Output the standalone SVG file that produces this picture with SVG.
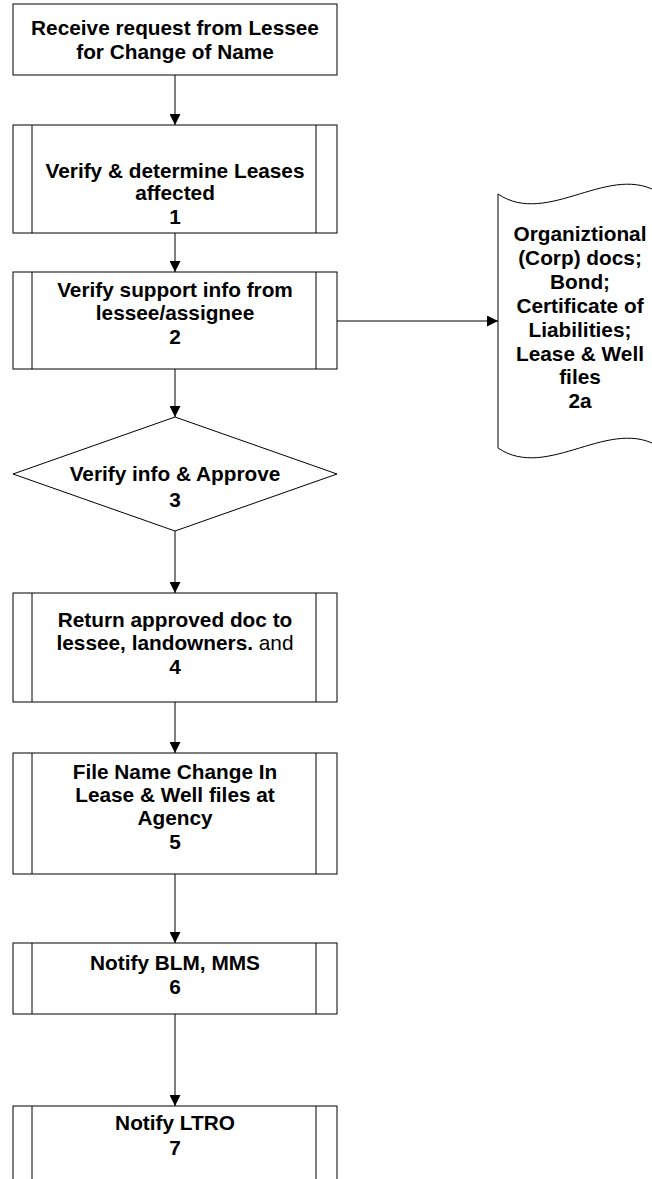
<svg xmlns="http://www.w3.org/2000/svg" width="652" height="1179" viewBox="0 0 652 1179">
<style>
.shape{fill:#fff;stroke:#000;stroke-width:1}
.div{stroke:#000;stroke-width:1;fill:none}
.conn{stroke:#000;stroke-width:1;fill:none;marker-end:url(#arr)}
text{font-family:"Liberation Sans",Arial,sans-serif;font-size:20.8px;font-weight:bold;fill:#000;text-anchor:middle}
</style>
<defs>
<marker id="arr" markerUnits="userSpaceOnUse" markerWidth="11" markerHeight="11" refX="11" refY="5.5" orient="auto">
<path d="M0,0 L11,5.5 L0,11 Z" fill="#000"/>
</marker>
</defs>
<rect width="652" height="1179" fill="#fff"/>
<g id="connectors">
<line class="conn" x1="175" y1="75" x2="175" y2="125"/>
<line class="conn" x1="175" y1="233" x2="175" y2="272"/>
<line class="conn" x1="175" y1="369" x2="175" y2="417"/>
<line class="conn" x1="175" y1="531" x2="175" y2="593"/>
<line class="conn" x1="175" y1="702" x2="175" y2="753"/>
<line class="conn" x1="175" y1="874" x2="175" y2="943"/>
<line class="conn" x1="175" y1="1014" x2="175" y2="1106"/>
<line class="conn" x1="337" y1="321" x2="498" y2="321"/>
</g>
<g id="start">
<rect class="shape" x="13" y="4" width="324" height="71"/>
<text x="175" y="35">Receive request from Lessee</text>
<text x="175" y="59">for Change of Name</text>
</g>
<g id="step1">
<rect class="shape" x="13" y="125" width="324" height="108"/>
<path class="div" d="M32,125 V233 M316,125 V233"/>
<text x="175" y="178">Verify &amp; determine Leases</text>
<text x="175" y="200">affected</text>
<text x="175" y="224">1</text>
</g>
<g id="step2">
<rect class="shape" x="13" y="272" width="324" height="97"/>
<path class="div" d="M32,272 V369 M316,272 V369"/>
<text x="175" y="297">Verify support info from</text>
<text x="175" y="320">lessee/assignee</text>
<text x="175" y="344">2</text>
</g>
<g id="doc2a">
<path class="shape" d="M498,194 C548,228 611,160 661,194 L661,448 C611,414 548,482 498,448 Z"/>
<text x="580" y="241">Organiztional</text>
<text x="580" y="265">(Corp) docs;</text>
<text x="580" y="289">Bond;</text>
<text x="580" y="313">Certificate of</text>
<text x="580" y="337">Liabilities;</text>
<text x="580" y="361">Lease &amp; Well</text>
<text x="580" y="384">files</text>
<text x="580" y="408">2a</text>
</g>
<g id="step3">
<path class="shape" d="M175,417 L337,474 L175,531 L13,474 Z"/>
<text x="175" y="481">Verify info &amp; Approve</text>
<text x="175" y="507">3</text>
</g>
<g id="step4">
<rect class="shape" x="13" y="593" width="324" height="109"/>
<path class="div" d="M32,593 V702 M316,593 V702"/>
<text x="175" y="627">Return approved doc to</text>
<text x="175" y="650">lessee, landowners. <tspan font-weight="normal">and</tspan></text>
<text x="175" y="674">4</text>
</g>
<g id="step5">
<rect class="shape" x="13" y="753" width="324" height="121"/>
<path class="div" d="M32,753 V874 M316,753 V874"/>
<text x="175" y="779">File Name Change In</text>
<text x="175" y="802">Lease &amp; Well files at</text>
<text x="175" y="825">Agency</text>
<text x="175" y="849">5</text>
</g>
<g id="step6">
<rect class="shape" x="13" y="943" width="324" height="71"/>
<path class="div" d="M32,943 V1014 M316,943 V1014"/>
<text x="175" y="970">Notify BLM, MMS</text>
<text x="175" y="994">6</text>
</g>
<g id="step7">
<rect class="shape" x="13" y="1106" width="324" height="80"/>
<path class="div" d="M32,1106 V1186 M316,1106 V1186"/>
<text x="175" y="1130">Notify LTRO</text>
<text x="175" y="1155">7</text>
</g>
</svg>
